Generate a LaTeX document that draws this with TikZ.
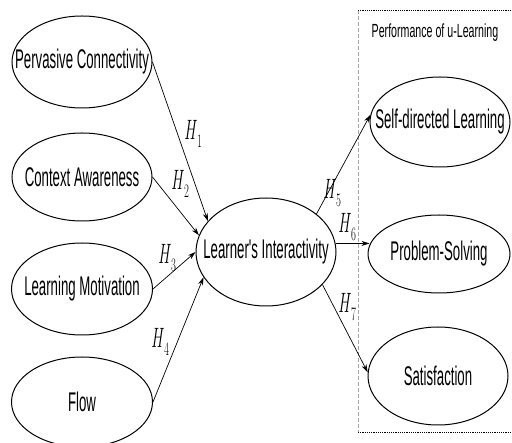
\documentclass[tikz,border=0pt]{standalone}
\usepackage{fontspec}
\usepackage{graphicx}
\newfontfamily\condfont[FakeStretch=0.49]{Liberation Sans}
\newfontfamily\smallcond[FakeStretch=0.56]{Liberation Sans}
\usetikzlibrary{arrows.meta,shapes.geometric}
\newcommand\hyp[1]{\scalebox{0.56}[1]{\fontsize{28}{28}\selectfont\textit{H}\raisebox{-8pt}{\fontsize{19}{19}\selectfont #1}}}
\begin{document}
\begin{tikzpicture}[x=1pt,y=-1pt,
  ell/.style={draw, ellipse, line width=1pt, inner sep=0pt},
  lbl/.style={font=\condfont\fontsize{27}{28}\selectfont, inner sep=0pt},
  hyplbl/.style={inner sep=0pt},
  arr/.style={-{Stealth[length=8pt,width=5pt]}, line width=0.7pt},
  boxside/.style={gray!70, dash pattern=on 4pt off 2pt, line width=0.8pt},
  boxedge/.style={black, dash pattern=on 1.2pt off 1pt, line width=0.7pt}]
\useasboundingbox (0,0) rectangle (512,443);
\clip (0,0) rectangle (512,443);

% dashed group box
\coordinate (btl) at (358,10);
\coordinate (bbl) at (358,432);
\coordinate (btr) at (515,10);
\coordinate (bbr) at (515,432);
\draw[boxside] (btl) -- (bbl);
\draw[boxedge] (btl) -- (btr) (bbl) -- (bbr);
\node[font=\smallcond\fontsize{19}{20}\selectfont, inner sep=0pt] (perf) at (435,33) {Performance of u-Learning};

% ellipses
\node[ell, minimum width=140pt, minimum height=92pt] (pc) at (82,62) {};
\node[ell, minimum width=140pt, minimum height=88pt] (ca) at (82,177) {};
\node[ell, minimum width=141pt, minimum height=92pt] (lm) at (82,289) {};
\node[ell, minimum width=141pt, minimum height=90pt] (fl) at (82,402) {};
\node[ell, minimum width=140pt, minimum height=108pt] (li) at (266,252) {};
\node[ell, minimum width=140pt, minimum height=90pt] (sdl) at (440,122) {};
\node[ell, minimum width=142pt, minimum height=78pt] (ps) at (439,254) {};
\node[ell, minimum width=140pt, minimum height=98pt] (sat) at (438,376) {};

% labels
\node[lbl] (pct) at (pc) {Pervasive Connectivity};
\node[lbl] (cat) at (ca) {Context Awareness};
\node[lbl] (lmt) at (lm) {Learning Motivation};
\node[lbl] (flt) at (fl) {Flow};
\node[lbl] (lit) at (li) {Learner's Interactivity};
\node[lbl] (sdlt) at (sdl) {Self-directed Learning};
\node[lbl] (pst) at (ps) {Problem-Solving};
\node[lbl] (satt) at (sat) {Satisfaction};

% arrows
\draw[arr] (pc.east) -- (li.152);
\draw[arr] (ca.east) -- (li.166);
\draw[arr] (lm.east) -- (li.180);
\draw[arr] (fl.east) -- (li.202);
\draw[arr] (li.37) -- (sdl.174);
\draw[arr] (li.7) -- ([xshift=2pt]li.7 -| ps.west);
\draw[arr] (li.330) -- (sat.177);

% hypothesis labels
\node[hyplbl] (h1) at (193,134) {\hyp{1}};
\node[hyplbl] (h2) at (180,184) {\hyp{2}};
\node[hyplbl] (h3) at (167,258) {\hyp{3}};
\node[hyplbl] (h4) at (160,342) {\hyp{4}};
\node[hyplbl] (h5) at (332,193) {\hyp{5}};
\node[hyplbl] (h6) at (347,227) {\hyp{6}};
\node[hyplbl] (h7) at (347,307) {\hyp{7}};
\end{tikzpicture}
\end{document}
